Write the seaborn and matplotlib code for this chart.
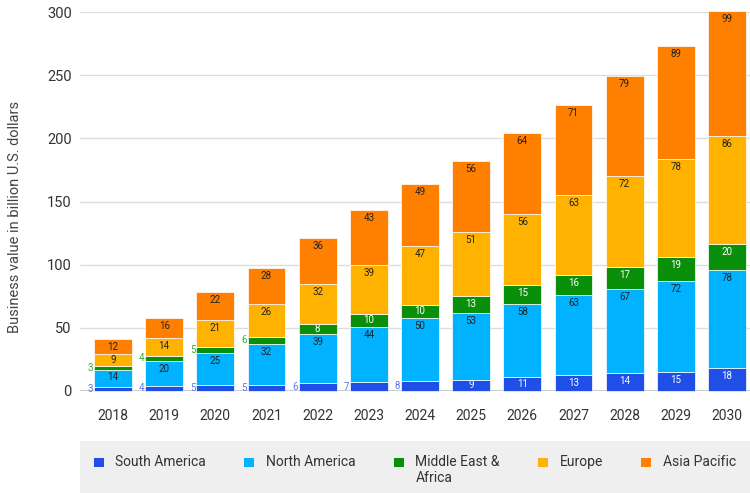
import matplotlib
matplotlib.use("Agg")
import matplotlib.pyplot as plt
import seaborn as sns
import numpy as np
import pandas as pd
from matplotlib.patches import Patch, Rectangle
from matplotlib.legend_handler import HandlerPatch

years = ["2018", "2019", "2020", "2021", "2022", "2023", "2024",
         "2025", "2026", "2027", "2028", "2029", "2030"]
regions = ["South America", "North America", "Middle East &\nAfrica", "Europe", "Asia Pacific"]
south_america = [3, 4, 5, 5, 6, 7, 8, 9, 11, 13, 14, 15, 18]
north_america = [14, 20, 25, 32, 39, 44, 50, 53, 58, 63, 67, 72, 78]
middle_east_africa = [3, 4, 5, 6, 8, 10, 10, 13, 15, 16, 17, 19, 20]
europe = [9, 14, 21, 26, 32, 39, 47, 51, 56, 63, 72, 78, 86]
asia_pacific = [12, 16, 22, 28, 36, 43, 49, 56, 64, 71, 79, 89, 99]
y_ticks = [0, 50, 100, 150, 200, 250, 300]
y_label = "Business value in billion U.S. dollars"

series = [south_america, north_america, middle_east_africa, europe, asia_pacific]
colors = ["#1f4fe6", "#00b2ff", "#0a8f0a", "#ffb300", "#ff8000"]
outside_colors = {0: "#5a78ee", 2: "#3aa83a"}
outside_limit = {0: 8, 2: 6}

sns.set_theme(style="white")
plt.rcParams["font.family"] = ["Roboto", "DejaVu Sans"]

fig = plt.figure(figsize=(7.5, 4.93), dpi=100)
ax = fig.add_axes([80 / 750, 102 / 493, 670 / 750, 379 / 493])

bar_width = 0.74
bottoms = np.zeros(len(years))
for j, (name, vals) in enumerate(zip(regions, series)):
    df = pd.DataFrame({"year": years, "value": vals})
    sns.barplot(data=df, x="year", y="value", order=years, color=colors[j],
                saturation=1, width=bar_width, errorbar=None, bottom=bottoms.copy(),
                edgecolor="#ffffff", linewidth=0.5, ax=ax, clip_on=False, zorder=3)
    for i, v in enumerate(vals):
        b = bottoms[i]
        if j in outside_limit and v <= outside_limit[j]:
            ax.text(i - bar_width / 2 - 0.02, b + v / 2, str(v), ha="right", va="center",
                    fontsize=7, color=outside_colors[j], zorder=4)
        else:
            tc = "white" if j in (0, 2) else "#222222"
            ax.text(i, b + v - min(6.3, v / 2), str(v), ha="center", va="center",
                    fontsize=7, color=tc, zorder=4)
    bottoms = bottoms + np.array(vals)

ax.set_xlim(-0.645, 12.45)
ax.set_ylim(0, 300)
ax.set_yticks(y_ticks)
ax.set_yticklabels([str(t) for t in y_ticks])
ax.grid(axis="y", color="#dddddd", linewidth=1, zorder=0)
ax.set_axisbelow(True)
for s in ax.spines.values():
    s.set_visible(False)
ax.axhline(0, color="#cccccc", linewidth=1.5, zorder=2)
ax.tick_params(axis="y", length=0, pad=6, labelsize=10.5, labelcolor="#333333")
ax.tick_params(axis="x", length=0, pad=13, labelsize=10, labelcolor="#333333")
ax.set_xlabel("")
ax.set_ylabel(y_label, fontsize=10.5, color="#444444")
ax.yaxis.set_label_coords(-0.0866, 0.46)


def top_square(legend, orig_handle, xdescent, ydescent, width, height, fontsize):
    return Rectangle((-xdescent, -ydescent + 0.58 * fontsize), width, height)


handles = [Patch(facecolor=c, edgecolor="none", label=r) for c, r in zip(colors, regions)]
labels = [r if "\n" in r else r + "\n" for r in regions]
leg = fig.legend(handles=handles, labels=labels, loc="lower left",
                 bbox_to_anchor=(80 / 750, -6 / 493, 670 / 750, 50 / 493), mode="expand",
                 ncol=5, frameon=True, facecolor="#efefef", edgecolor="none",
                 fancybox=False, borderaxespad=0, borderpad=1.0,
                 handlelength=0.7, handleheight=0.7, handletextpad=0.85,
                 fontsize=10, labelcolor="#333333",
                 handler_map={Patch: HandlerPatch(patch_func=top_square)})
leg.get_frame().set_alpha(1)

fig.savefig("out.png", dpi=100)
